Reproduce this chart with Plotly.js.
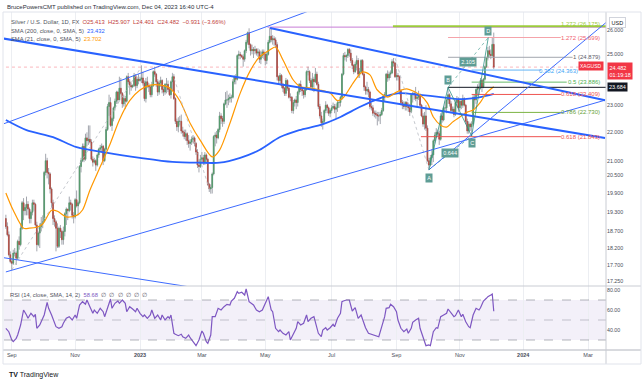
<!DOCTYPE html>
<html><head><meta charset="utf-8">
<script src="https://cdn.plot.ly/plotly-3.0.1.min.js"></script>
<style>html,body{margin:0;padding:0;background:#fff;}#chart{width:643px;height:383px;}</style>
</head><body><div id="chart"></div>
<script>
// ---- DATA (bar index: 0 = 2 Jan 2023, one bar per weekday) ----
const firstBar = -91; // 26 Aug 2022
const open = [
 19.10,18.85,18.60,18.00,
 17.80,17.75,18.05,18.05,17.90,18.40,18.30,18.80,19.60,19.35,19.45,19.55,19.40,19.10,19.30,19.60,19.55,18.90,18.30,18.65,18.85,18.95,
 19.00,20.60,21.00,20.60,20.55,20.05,19.60,19.10,19.00,18.80,18.25,18.80,18.70,18.45,18.70,19.25,19.40,19.35,19.60,19.55,19.20,
 19.15,19.70,19.50,19.60,20.80,21.00,21.50,21.05,21.80,21.70,21.75,21.65,21.05,20.95,21.00,20.85,21.20,21.40,21.45,21.50,21.00,21.40,
 22.10,22.95,23.10,22.25,22.50,22.90,23.15,23.50,23.20,23.65,23.45,23.05,23.25,23.15,24.10,23.90,23.75,23.70,23.75,24.15,23.75,24.00,
 23.95,24.00,24.05,23.85,23.25,23.90,23.75,23.70,23.40,23.75,24.30,24.20,23.90,23.50,23.85,23.95,23.60,23.50,23.80,23.80,23.60,23.40,
 23.90,24.10,23.25,22.40,22.20,22.40,22.40,22.05,22.00,21.85,21.95,21.70,21.60,21.65,21.75,21.80,21.60,21.30,20.85,20.80,
 21.05,21.10,20.95,21.20,21.05,20.20,20.05,20.10,20.55,21.85,21.90,21.80,22.10,22.60,22.50,22.40,23.05,23.20,23.20,23.25,23.30,23.30,23.90,
 24.10,24.00,24.95,25.00,24.95,24.90,24.80,25.15,25.50,25.90,25.40,25.15,25.20,25.15,25.20,25.05,25.10,24.80,24.95,25.10,
 25.00,24.75,25.00,25.50,25.75,25.60,25.65,25.60,25.40,24.10,23.95,24.15,23.75,23.65,23.45,23.95,23.65,23.30,23.30,22.80,23.10,23.20,23.10,
 23.50,23.80,23.60,23.55,23.40,23.60,24.30,24.30,23.95,23.70,24.00,23.90,24.20,23.80,22.95,22.60,22.35,22.40,22.80,23.00,22.90,22.70,
 22.80,22.90,22.95,22.85,22.90,23.10,23.10,23.30,24.20,24.95,24.90,24.95,25.20,25.05,24.75,24.55,24.30,24.60,24.75,24.20,24.30,
 24.75,24.20,23.70,23.55,23.60,23.50,22.95,22.90,22.70,22.70,22.65,22.60,22.60,22.65,22.80,23.35,23.40,24.20,24.05,24.20,24.25,24.70,24.65,
 24.10,24.15,24.10,23.55,23.10,23.00,22.95,23.10,22.95,22.90,22.75,23.40,23.45,23.40,23.25,23.30,23.40,23.00,22.60,22.30,22.60,
 22.15,21.00,20.85,21.10,21.20,21.70,21.90,22.00,21.95,21.75,22.60,22.45,22.90,22.90,23.20,23.40,23.05,22.80,22.85,22.65,23.10,23.20,
 22.90,23.15,23.00,23.25,23.00,22.40,22.05,22.30,22.20,22.30,23.30,23.20,23.60,23.70,23.65,23.95,23.70,24.00,24.50,24.85,25.15,25.00,
 24.95,25.413];
const high = [
 19.22,18.98,18.70,18.10,
 17.90,18.15,18.20,18.10,18.45,18.55,18.95,19.66,19.75,19.55,19.80,19.65,19.45,19.35,19.70,19.70,19.60,19.00,18.70,18.95,19.15,19.20,
 20.65,21.24,21.10,20.75,20.60,20.10,19.70,19.20,19.05,18.95,18.85,18.90,18.75,18.85,19.30,19.45,19.40,19.80,19.70,19.60,19.30,
 19.75,20.00,19.65,20.85,21.10,21.60,21.60,21.95,22.00,22.25,22.25,21.75,21.15,21.10,21.05,21.25,21.45,21.55,21.60,21.55,21.45,22.20,
 23.05,23.40,23.30,22.55,22.95,23.25,23.55,23.55,24.10,24.05,23.50,23.40,23.35,24.15,24.25,24.00,23.85,23.80,24.25,24.20,24.10,24.20,
 24.10,24.55,24.30,23.95,24.05,24.10,23.85,23.75,23.90,24.35,24.50,24.25,24.00,23.95,24.10,24.00,23.75,23.85,24.05,23.95,23.70,23.95,
 24.25,24.20,23.30,22.50,22.55,22.60,22.65,22.20,22.10,22.10,22.00,21.90,21.75,21.85,21.90,21.85,21.65,21.40,21.05,21.20,
 21.30,21.20,21.30,21.25,21.10,20.25,20.20,20.60,21.90,22.00,22.05,22.15,22.75,22.70,22.60,23.10,23.50,23.55,23.40,23.45,23.40,24.00,24.15,
 24.20,25.00,25.15,25.10,25.00,25.00,25.20,25.60,25.95,26.09,25.45,25.40,25.30,25.35,25.25,25.25,25.20,25.15,25.20,25.20,
 25.05,25.10,25.60,26.10,26.14,25.80,25.75,25.70,25.50,24.15,24.25,24.20,23.85,23.70,24.05,24.00,23.70,23.45,23.35,23.20,23.25,23.35,23.55,
 23.85,23.95,23.70,23.60,23.65,24.35,24.50,24.35,24.05,24.25,24.10,24.45,24.30,23.90,23.05,22.75,22.50,22.85,23.15,23.05,22.95,22.85,
 23.00,23.10,23.05,23.05,23.20,23.20,23.35,24.25,25.05,25.10,25.00,25.25,25.26,25.20,24.85,24.60,24.70,24.95,24.85,24.45,24.80,
 24.80,24.25,23.75,23.90,23.70,23.55,23.10,23.00,22.80,22.80,22.75,22.75,22.75,22.90,23.40,23.50,24.25,24.35,24.30,24.35,24.80,24.85,24.70,
 24.40,24.25,24.15,23.60,23.20,23.15,23.15,23.15,23.10,23.05,23.45,23.50,23.55,23.70,23.45,23.55,23.45,23.05,22.70,22.75,23.00,
 22.25,21.10,21.20,21.40,21.75,22.00,22.15,22.10,22.05,22.70,22.75,22.95,23.15,23.25,23.68,23.45,23.15,22.95,22.95,23.20,23.35,23.30,
 23.25,23.20,23.40,23.30,23.05,22.50,22.40,22.35,22.40,23.40,23.40,23.65,23.80,23.85,24.05,24.00,24.05,24.55,24.90,25.30,25.35,25.20,
 25.70,25.907];
const low = [
 18.78,18.55,17.95,17.75,
 17.56,17.70,17.95,17.70,17.85,18.15,18.25,18.75,19.05,19.20,19.20,19.20,18.95,18.95,19.20,19.35,18.85,18.10,18.25,18.20,18.70,18.80,
 19.00,20.50,20.40,20.20,19.90,19.45,18.90,18.85,18.10,18.20,18.20,18.50,18.30,18.30,18.55,18.90,19.05,19.30,19.35,19.10,18.95,
 19.10,19.45,19.20,19.55,20.60,20.95,20.95,21.00,21.50,21.55,21.60,21.00,20.80,20.90,20.65,20.80,21.10,21.30,21.30,20.85,20.95,21.35,
 22.05,22.60,22.20,22.05,22.40,22.80,23.05,23.05,23.20,23.40,22.90,22.95,22.85,23.10,23.80,23.40,23.55,23.65,23.70,23.55,23.65,23.80,
 23.90,23.85,23.75,23.15,23.10,23.65,23.50,23.30,23.30,23.70,24.10,23.70,23.35,23.40,23.70,23.45,23.35,23.40,23.45,23.50,23.35,23.25,
 23.55,23.20,22.30,22.05,22.00,22.25,21.95,21.85,21.75,21.70,21.55,21.45,21.35,21.55,21.60,21.50,21.20,20.75,20.60,20.75,
 20.95,20.85,20.85,20.90,20.15,19.95,19.90,19.90,20.50,21.50,21.60,21.75,22.00,22.30,22.20,22.30,23.00,22.90,23.00,23.10,23.10,23.25,23.80,
 23.80,23.95,24.80,24.80,24.85,24.50,24.70,25.05,25.40,25.25,24.95,25.00,24.85,25.00,24.95,24.90,24.65,24.60,24.85,24.80,
 24.55,24.60,24.95,25.45,25.50,25.40,25.35,25.25,23.95,23.80,23.85,23.65,23.50,23.35,23.35,23.55,23.25,23.15,22.70,22.68,22.95,22.85,22.95,
 23.40,23.50,23.35,23.25,23.30,23.55,24.15,23.85,23.60,23.55,23.50,23.85,23.75,22.85,22.50,22.20,22.10,22.30,22.70,22.70,22.60,22.55,
 22.70,22.85,22.70,22.50,22.75,22.90,22.95,23.20,24.15,24.75,24.70,24.85,24.90,24.65,24.40,24.20,24.25,24.35,24.05,24.05,24.25,
 24.15,23.55,23.40,23.40,23.30,22.85,22.80,22.60,22.55,22.50,22.25,22.40,22.30,22.60,22.75,23.15,23.35,23.90,23.95,24.05,24.20,24.50,24.05,
 23.95,23.95,23.40,23.00,22.85,22.85,22.80,22.80,22.75,22.60,22.70,23.10,23.20,23.15,22.90,23.20,22.95,22.55,22.20,22.10,22.05,
 20.95,20.69,20.80,20.85,20.95,21.60,21.80,21.85,21.55,21.70,22.35,22.40,22.75,22.70,23.05,22.95,22.70,22.70,22.55,22.60,22.95,22.75,
 22.80,22.85,22.90,22.95,22.30,21.95,21.95,22.05,21.88,22.25,22.90,23.05,23.35,23.40,23.60,23.50,23.65,23.95,24.45,24.75,24.90,24.80,
 24.90,24.401];
const close = [
 18.85,18.60,18.00,17.80,
 17.75,18.05,18.05,17.90,18.40,18.30,18.80,19.60,19.35,19.45,19.55,19.40,19.10,19.30,19.60,19.55,18.90,18.30,18.65,18.85,18.95,19.00,
 20.60,21.00,20.60,20.55,20.05,19.60,19.10,19.00,18.80,18.25,18.80,18.70,18.45,18.70,19.25,19.40,19.35,19.60,19.55,19.20,19.15,
 19.70,19.50,19.60,20.80,21.00,21.50,21.05,21.80,21.70,21.75,21.65,21.05,20.95,21.00,20.85,21.20,21.40,21.45,21.50,21.00,21.40,22.10,
 22.95,23.10,22.25,22.50,22.90,23.15,23.50,23.20,23.65,23.45,23.05,23.25,23.15,24.10,23.90,23.75,23.70,23.75,24.15,23.75,24.00,23.95,
 24.00,24.05,23.85,23.25,23.90,23.75,23.70,23.40,23.75,24.30,24.20,23.90,23.50,23.85,23.95,23.60,23.50,23.80,23.80,23.60,23.40,23.90,
 24.10,23.25,22.40,22.20,22.40,22.40,22.05,22.00,21.85,21.95,21.70,21.60,21.65,21.75,21.80,21.60,21.30,20.85,20.80,21.05,
 21.10,20.95,21.20,21.05,20.20,20.05,20.10,20.55,21.85,21.90,21.80,22.10,22.60,22.50,22.40,23.05,23.20,23.20,23.25,23.30,23.30,23.90,24.10,
 24.00,24.95,25.00,24.95,24.90,24.80,25.15,25.50,25.90,25.40,25.15,25.20,25.15,25.20,25.05,25.10,24.80,24.95,25.10,25.00,
 24.75,25.00,25.50,25.75,25.60,25.65,25.60,25.40,24.10,23.95,24.15,23.75,23.65,23.45,23.95,23.65,23.30,23.30,22.80,23.10,23.20,23.10,23.50,
 23.80,23.60,23.55,23.40,23.60,24.30,24.30,23.95,23.70,24.00,23.90,24.20,23.80,22.95,22.60,22.35,22.40,22.80,23.00,22.90,22.70,22.80,
 22.90,22.95,22.85,22.90,23.10,23.10,23.30,24.20,24.95,24.90,24.95,25.20,25.05,24.75,24.55,24.30,24.60,24.75,24.20,24.30,24.75,
 24.20,23.70,23.55,23.60,23.50,22.95,22.90,22.70,22.70,22.65,22.60,22.60,22.65,22.80,23.35,23.40,24.20,24.05,24.20,24.25,24.70,24.65,24.10,
 24.15,24.10,23.55,23.10,23.00,22.95,23.10,22.95,22.90,22.75,23.40,23.45,23.40,23.25,23.30,23.40,23.00,22.60,22.30,22.60,22.15,
 21.00,20.85,21.10,21.20,21.70,21.90,22.00,21.95,21.75,22.60,22.45,22.90,22.90,23.20,23.40,23.05,22.80,22.85,22.65,23.10,23.20,22.90,
 23.15,23.00,23.25,23.00,22.40,22.05,22.30,22.20,22.30,23.30,23.20,23.60,23.70,23.65,23.95,23.70,24.00,24.50,24.85,25.15,25.00,24.95,
 25.41,24.482];

const sma200Bar = [-91,-77,-59,-43,-22,0,22,41,54,68,81,95,108,122,136,149,163,176,190,204,217,231,240];
const sma200Val = [22.45,22.08,21.83,21.47,21.27,21.10,20.96,20.93,20.93,21.10,21.37,21.83,22.08,22.26,22.56,22.93,23.27,23.46,23.39,23.31,23.23,23.31,23.432];
const sma21Bar = [-91,-86,-79,-75,-70,-66,-60,-56,-50,-43,-39,-34,-27,-20,-14,-7,0,7,14,20,27,34,41,49,54,61,68,75,81,88,92,97,104,109,115,122,129,134,138,145,151,156,161,168,174,181,190,195,199,204,208,212,217,222,226,231,235,240];
const sma21Val = [19.92,19.36,18.80,18.80,18.83,18.93,19.36,19.33,19.15,19.20,19.37,20.01,20.79,21.62,22.45,23.17,23.58,23.77,23.77,23.66,23.17,22.33,21.70,21.13,21.37,22.33,23.46,24.36,24.89,25.18,25.30,24.77,23.97,23.70,23.66,23.58,23.46,23.17,23.29,23.89,24.29,24.17,23.58,23.31,23.50,23.62,23.39,23.08,22.56,22.26,22.19,22.37,22.56,22.74,22.82,23.12,23.46,23.702];

const rsiBar = [-91,-89,-87,-86,-84,-83,-81,-79,-77,-76,-74,-72,-71,-70,-68,-67,-65,-63,-62,-60,-58,-57,-55,-53,-52,-50,-48,-46,-44,-43,-41,-39,-37,-36,-34,-32,-31,-29,-27,-25,-24,-22,-20,-19,-17,-15,-14,-12,-10,-9,-7,-5,-3,-2,0,2,3,5,7,8,10,12,14,15,17,19,20,21,23,24,26,28,29,31,33,34,36,38,40,42,43,45,46,48,49,51,53,55,57,59,61,62,64,66,67,69,71,72,74,76,77,79,81,83,85,87,89,90,92,94,95,97,99,101,102,104,106,107,109,111,113,114,116,118,119,121,123,
 124,126,127,129,131,132,134,136,137,138,140,142,143,144,146,147,148,150,152,153,155,157,159,161,162,164,166,167,169,170,172,174,175,177,179,181,182,184,185,187,189,190,192,194,196,197,199,201,202,204,206,208,209,211,213,214,216,218,219,221,223,224,226,228,230,231,233,235,236,238,239,240];
const rsiVal = [41.7,38.3,30,28.3,31.7,35,45,60,55,51.7,56.7,53.3,55.7,41.7,45,48.3,55,67.7,61.7,55,48.3,43.3,41.7,43.3,46.7,51.7,53.3,50,55,51.7,65,68.3,65.7,70,63.3,56.7,60,56.7,61.7,58.3,53.3,61.7,71,61.7,66.7,69,66.7,70,66.7,58.3,63.3,61,58.3,61.7,56.7,53.3,55,51.7,55,60,51.7,55,50,55,50,53.3,51.7,55,36.7,35.7,34.3,35.7,33.3,31.7,35,32.3,28.3,24.3,30,39,36.7,28.3,26.7,35,53.3,53.3,61.7,60,63.3,65.7,65,69,71.7,78.3,76.7,77.7,75,81,68.3,65.7,65,60,58.3,60,66.7,73.3,60,58.3,41.7,38.3,40,36.7,35,38.3,30,35.7,41.7,48.3,45,46.7,55,48.3,51.7,53.3,46.7,36.7,33.3,
 40,42.3,40,42.3,45.7,43.3,51.7,56.7,68.3,69,70,70,65,59,62.3,56.7,51.7,55,45.7,42.3,36.7,35.7,35,34.3,33.3,43.3,53.3,61.7,62.3,65.7,63.3,58.3,50,41.7,38.3,41,36.7,41.7,47.7,50,51.7,41.7,33.3,24.3,25,24.3,38.3,42.3,41.7,53.3,55,56.7,61,56.7,53.3,54.3,60,53.3,55.7,48.3,43.3,42.3,55,61.7,60,62.3,69,71.7,73.3,75,76,58.68];

// drawings (bar, price endpoints)
const chanUpperBar = [-95,129],  chanUpperPx = [22.26,27.19];
const chanLowerBar = [-91,315.5], chanLowerPx = [17.50,23.19];
const lowLeftBar = [-95,40.7],   lowLeftPx = [17.93,17.03];
const thickDownBar = [-95,315.5], thickDownPx = [25.68,21.80];
const mayDownBar = [88.2,315.5],  mayDownPx = [26.10,23.19];
const riseABar = [196,325.6],     riseAPx = [20.69,26.84];
const mayHighBar = [86.5,316.2],  mayHighPx = [26.14,26.14];
const extGreenBar = [171.6,316.2], extGreenPx = [26.175,26.175];
const resistBar = [209,316.2],    resistPx = [23.684,23.684];
const zig1Bar = [-87,1],   zig1Px = [17.56,24.50];
const zig2Bar = [22,48],   zig2Px = [24.25,19.90];
const zig3Bar = [173,196], zig3Px = [24.85,20.69];

const fibLabel = ['1.272 (25.699)','1 (24.879)','0.382 (24.363)','0.5 (23.886)','0.618 (23.409)','0.786 (22.730)','0.618 (21.843)'];
const fibPrice = [25.699,24.879,24.363,23.886,23.409,22.730,21.843];
const fibStart = [209,209,225,225,225,225,190.6];
const fibEnd   = [285.5,293.5,272,289.5,285.5,285.5,285.5];
const fibLineColor = ['#f5a3aa','#a3a6ae','#64b5f6','#66bb6a','#ef5350','#7cb342','#ef5350'];
const fibTextColor = ['#f0616f','#5d606b','#42a5f5','#4caf50','#ef5350','#689f38','#ef5350'];
const fibLabelRight = [602,602,580,602,602,602,602];

const abcdName = ['A','B','C','D'];
const abcdBar = [196,209,225,236.3];
const abcdPx = [20.69,23.684,21.865,25.70];
const abcdRatio = ['0.644','2.105'];

const tickBars = [-87,-44,0,42,85,130,174,217,260,304];
const tickText = ['Sep','Nov','<b>2023</b>','Mar','May','Jul','Sep','Nov','<b>2024</b>','Mar'];
const priceTicks = [17.25,17.7,18.2,18.7,19.3,19.9,20.5,21,22,23,25,26];
const priceTickText = ['17.250','17.700','18.200','18.700','19.300','19.900','20.500','21.000','22.000','23.000','25.000','26.000'];
const rsiTicks = [40,60,80], rsiTickText = ['40.00','60.00','80.00'];

// ---- BUILD ----
const W=643,H=383,M={l:4,r:37,t:12,b:33};
const PW=W-M.l-M.r, PH=H-M.t-M.b;
const pX = x => (x-M.l)/PW, pY = y => (H-M.b-y)/PH;
const L10 = v => Math.log10(v);
const barX = close.map((_,i)=>firstBar+i);
const bodyHi = close.map((c,i)=>Math.max(c,open[i]));
const bodyLo = close.map((c,i)=>Math.min(c,open[i]));
const UP='#4f9a67', DN='#b3463c', WICK='#a3a6ae';
const FONT='Liberation Sans, Arial, sans-serif';

const traces = [];
traces.push({type:'candlestick',x:barX,open:open,high:high,low:low,close:close,
  increasing:{line:{color:WICK,width:1},fillcolor:WICK},decreasing:{line:{color:WICK,width:1},fillcolor:WICK},
  whiskerwidth:0,hoverinfo:'skip',xaxis:'x',yaxis:'y'});
traces.push({type:'candlestick',x:barX,open:open,high:bodyHi,low:bodyLo,close:close,
  increasing:{line:{color:UP,width:0.6},fillcolor:UP},decreasing:{line:{color:DN,width:0.6},fillcolor:DN},
  whiskerwidth:0,hoverinfo:'skip',xaxis:'x',yaxis:'y'});
traces.push({type:'scatter',mode:'lines',x:sma200Bar,y:sma200Val,line:{color:'#2962ff',width:1.8,shape:'spline',smoothing:0.8},xaxis:'x',yaxis:'y',hoverinfo:'skip'});
traces.push({type:'scatter',mode:'lines',x:sma21Bar,y:sma21Val,line:{color:'#ff9800',width:1.2,shape:'spline',smoothing:0.8},xaxis:'x',yaxis:'y',hoverinfo:'skip'});

function seg(xs,ys,color,width,dash){
  traces.push({type:'scatter',mode:'lines',x:xs,y:ys,line:{color:color,width:width,dash:dash||'solid'},xaxis:'x',yaxis:'y',hoverinfo:'skip'});
}
seg([-95,316.2],[close[close.length-1],close[close.length-1]],'rgba(242,54,69,0.45)',0.8,'dot');
seg(zig1Bar,zig1Px,'#b8bbc3',0.8,'dot');
seg(zig2Bar,zig2Px,'#b8bbc3',0.8,'dot');
seg(zig3Bar,zig3Px,'#b8bbc3',0.8,'dot');
seg(mayHighBar,mayHighPx,'#c77dd6',1);
seg(extGreenBar,extGreenPx,'#9ccc3c',2);
seg(resistBar,resistPx,'#131722',1);
for(let i=0;i<fibPrice.length;i++) seg([fibStart[i],fibEnd[i]],[fibPrice[i],fibPrice[i]],fibLineColor[i],1);
seg(chanUpperBar,chanUpperPx,'#3d6bff',1);
seg(chanLowerBar,chanLowerPx,'#3d6bff',1);
seg(lowLeftBar,lowLeftPx,'#3d6bff',1);
seg(thickDownBar,thickDownPx,'#2962ff',2);
seg(mayDownBar,mayDownPx,'#2962ff',2);
seg(riseABar,riseAPx,'#3d6bff',1);
seg(abcdBar,abcdPx,'rgba(38,140,128,0.75)',1);
seg([abcdBar[0],abcdBar[2]],[abcdPx[0],abcdPx[2]],'rgba(38,140,128,0.7)',0.8,'dot');
seg([abcdBar[1],abcdBar[3]],[abcdPx[1],abcdPx[3]],'rgba(38,140,128,0.7)',0.8,'dot');
traces.push({type:'scatter',mode:'lines',x:rsiBar,y:rsiVal,line:{color:'#7e57c2',width:1.2},xaxis:'x2',yaxis:'y2',hoverinfo:'skip'});

const shapes = [
  {type:'rect',xref:'paper',yref:'y2',x0:0,x1:1,y0:30,y1:70,fillcolor:'rgba(126,87,194,0.09)',line:{width:0},layer:'below'},
  {type:'line',xref:'paper',yref:'y2',x0:0,x1:1,y0:70,y1:70,line:{color:'rgba(120,123,134,0.7)',width:0.8,dash:'dash'}},
  {type:'line',xref:'paper',yref:'y2',x0:0,x1:1,y0:50,y1:50,line:{color:'rgba(120,123,134,0.5)',width:0.8,dash:'dash'}},
  {type:'line',xref:'paper',yref:'y2',x0:0,x1:1,y0:30,y1:30,line:{color:'rgba(120,123,134,0.7)',width:0.8,dash:'dash'}},
  {type:'line',xref:'paper',yref:'paper',x0:pX(3),x1:pX(641),y0:pY(286),y1:pY(286),line:{color:'#c9ccd3',width:1}},
  {type:'line',xref:'paper',yref:'paper',x0:pX(3),x1:pX(641),y0:pY(350),y1:pY(350),line:{color:'#b2b5be',width:1}},
  {type:'line',xref:'paper',yref:'paper',x0:pX(606),x1:pX(606),y0:pY(12),y1:pY(364),line:{color:'#c9ccd3',width:1}},
  {type:'rect',xref:'paper',yref:'paper',x0:pX(3),x1:pX(641),y0:pY(364),y1:pY(12),line:{color:'#e0e3eb',width:1}}
];

const ann = [];
function txt(x,y,t,size,color,xa,extra){
  ann.push(Object.assign({xref:'paper',yref:'paper',x:pX(x),y:pY(y),text:t,showarrow:false,xanchor:xa||'left',yanchor:'middle',font:{family:FONT,size:size,color:color}},extra||{}));
}
txt(5,7,'BrucePowersCMT published on TradingView.com, Dec 04, 2023 16:40 UTC-4',6,'#2a2e39');
txt(9,22.5,'Silver / U.S. Dollar, 1D, FX  <span style="color:#c2413b">O25.413  H25.907  L24.401  C24.482  \u22120.931 (\u22123.66%)</span>',5.8,'#50535e');
txt(9,31,'SMA (200, close, 0, SMA, 5)  <span style="color:#2962ff">23.432</span>',5.8,'#50535e');
txt(9,39.3,'SMA (21, close, 0, SMA, 5)  <span style="color:#ff9800">23.702</span>',5.8,'#50535e');
txt(8,294.5,'RSI (14, close, SMA, 14, 2)  <span style="color:#7e57c2">58.68</span>  \u2205  \u2205  \u2205  \u2205  \u2205  \u2205',5.8,'#50535e');
txt(7,375,'<b>TV</b> TradingView',7,'#131722');
txt(609,22.5,'USD',5.5,'#131722','left',{bordercolor:'#d1d4dc',borderwidth:1,borderpad:1.5,bgcolor:'#fff'});

for(let i=0;i<fibPrice.length;i++){
  ann.push({xref:'paper',yref:'y',x:pX(fibLabelRight[i]),y:L10(fibPrice[i]),yshift:(i===2?-1:0),text:fibLabel[i],showarrow:false,xanchor:'right',yanchor:'middle',font:{family:FONT,size:6,color:fibTextColor[i]}});
}
ann.push({xref:'paper',yref:'y',x:pX(602),y:L10(extGreenPx[0]),yshift:2.5,text:'1.272 (26.175)',showarrow:false,xanchor:'right',yanchor:'middle',font:{family:FONT,size:6,color:'#9ccc3c'}});
const last = close[close.length-1];
ann.push({xref:'paper',yref:'y',x:pX(604),y:L10(last),yshift:1,text:'XAGUSD',showarrow:false,xanchor:'right',yanchor:'middle',bgcolor:'#f23645',borderpad:1,font:{family:FONT,size:5,color:'#fff'}});
ann.push({xref:'paper',yref:'y',x:pX(606.5),y:L10(last),yshift:-4,text:last.toFixed(3)+'<br>01:19:18',align:'left',showarrow:false,xanchor:'left',yanchor:'middle',bgcolor:'#f23645',borderpad:1.5,font:{family:FONT,size:5.5,color:'#fff'}});
ann.push({xref:'paper',yref:'y',x:pX(606.5),y:L10(resistPx[0]),text:resistPx[0].toFixed(3),showarrow:false,xanchor:'left',yanchor:'middle',bgcolor:'#131722',borderpad:1,font:{family:FONT,size:5.5,color:'#fff'}});
const abShift=[-8,7,-7,6];
for(let i=0;i<4;i++){
  ann.push({xref:'x',yref:'y',x:abcdBar[i],y:L10(abcdPx[i]),yshift:abShift[i],text:abcdName[i],showarrow:false,bgcolor:'#5f9d95',borderpad:1.2,font:{family:FONT,size:5.5,color:'#fff'}});
}
ann.push({xref:'x',yref:'y',x:(abcdBar[0]+abcdBar[2])/2,y:(L10(abcdPx[0])+L10(abcdPx[2]))/2,text:abcdRatio[0],showarrow:false,bgcolor:'#5f9d95',borderpad:1.2,font:{family:FONT,size:5.5,color:'#fff'}});
ann.push({xref:'x',yref:'y',x:(abcdBar[1]+abcdBar[3])/2,y:(L10(abcdPx[1])+L10(abcdPx[3]))/2,text:abcdRatio[1],showarrow:false,bgcolor:'#5f9d95',borderpad:1.2,font:{family:FONT,size:5.5,color:'#fff'}});

const layout = {
  width:W,height:H,margin:M,paper_bgcolor:'#fff',plot_bgcolor:'#fff',showlegend:false,
  font:{family:FONT,size:5.5,color:'#131722'},
  xaxis:{domain:[0,1],range:[-92.27,316.15],anchor:'y',showticklabels:false,tickmode:'array',tickvals:tickBars,
    showgrid:true,gridcolor:'#eceef2',zeroline:false,showline:false,ticks:'',rangeslider:{visible:false},fixedrange:true},
  xaxis2:{domain:[0,1],matches:'x',anchor:'y2',tickmode:'array',tickvals:tickBars,ticktext:tickText,
    showgrid:true,gridcolor:'#eceef2',zeroline:false,showline:false,ticks:'',tickfont:{family:FONT,size:5.5,color:'#4a4e59'},rangeslider:{visible:false}},
  yaxis:{domain:[pY(286),1],type:'log',range:[Math.log10(17.101),Math.log10(26.796)],side:'right',tickmode:'array',
    tickvals:priceTicks,ticktext:priceTickText,showgrid:false,zeroline:false,showline:false,ticks:'',
    tickfont:{family:FONT,size:5.3,color:'#4a4e59'}},
  yaxis2:{domain:[0,pY(286)],range:[20,84],side:'right',tickmode:'array',tickvals:rsiTicks,ticktext:rsiTickText,
    showgrid:false,zeroline:false,showline:false,ticks:'',tickfont:{family:FONT,size:5.3,color:'#4a4e59'}},
  shapes:shapes,annotations:ann
};
Plotly.newPlot('chart',traces,layout,{staticPlot:true,displayModeBar:false});
</script></body></html>
